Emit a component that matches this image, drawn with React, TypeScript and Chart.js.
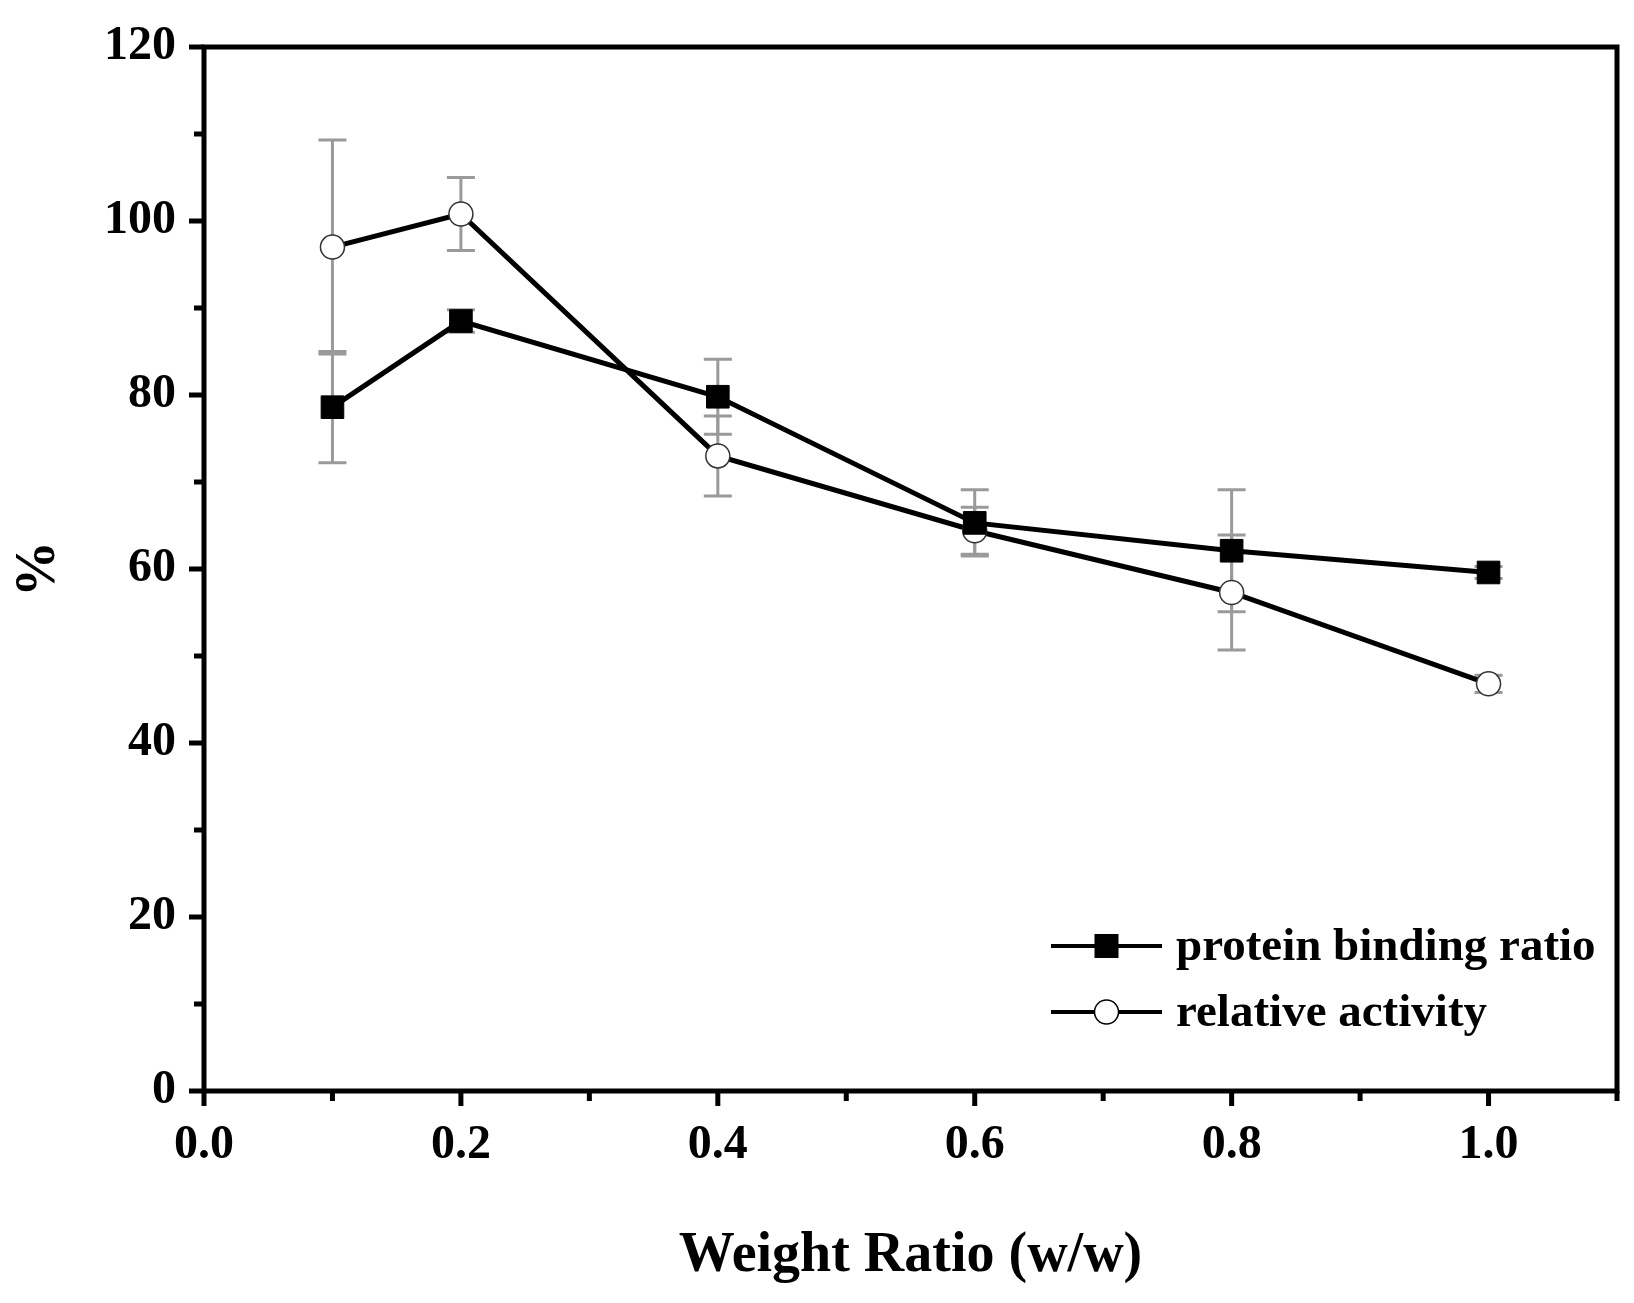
import { useEffect, useRef } from 'react';
import { Chart, registerables } from 'chart.js';
Chart.register(...registerables);

const ratios = [0.1, 0.2, 0.4, 0.6, 0.8, 1.0];
const bindingRatio = [78.6, 88.5, 79.8, 65.3, 62.1, 59.6];
const bindingErr = [6.4, 1.3, 4.3, 3.8, 7.0, 0.7];
const relativeActivity = [97.0, 100.8, 73.0, 64.4, 57.3, 46.8];
const activityErr = [12.3, 4.2, 4.6, 2.7, 6.6, 1.0];
const seriesNames = ['protein binding ratio', 'relative activity'];
const xMajorTicks = [0, 0.2, 0.4, 0.6, 0.8, 1.0];
const xMinorTicks = [0.1, 0.3, 0.5, 0.7, 0.9, 1.1];
const yMajorTicks = [0, 20, 40, 60, 80, 100, 120];
const yMinorTicks = [10, 30, 50, 70, 90, 110];

const FONT = "'Liberation Serif', 'Times New Roman', serif";

const decor = {
  id: 'decor',
  beforeDatasetsDraw(chart: any) {
    const { ctx, scales: { x, y } } = chart;
    ctx.save();
    ctx.strokeStyle = '#9a9a9a';
    ctx.lineWidth = 3;
    const sets = [[bindingRatio, bindingErr], [relativeActivity, activityErr]];
    sets.forEach(([vals, errs]) => {
      ratios.forEach((r, i) => {
        const px = x.getPixelForValue(r);
        const top = y.getPixelForValue(vals[i] + errs[i]);
        const bot = y.getPixelForValue(vals[i] - errs[i]);
        ctx.beginPath();
        ctx.moveTo(px, top); ctx.lineTo(px, bot);
        ctx.moveTo(px - 14, top); ctx.lineTo(px + 14, top);
        ctx.moveTo(px - 14, bot); ctx.lineTo(px + 14, bot);
        ctx.stroke();
      });
    });
    ctx.restore();
  },
  afterDraw(chart: any) {
    const { ctx, chartArea: a, scales: { x, y } } = chart;
    ctx.save();
    ctx.strokeStyle = '#000';
    ctx.lineWidth = 5;
    ctx.strokeRect(a.left, a.top, a.right - a.left, a.bottom - a.top);
    ctx.beginPath();
    xMajorTicks.forEach(v => { const p = x.getPixelForValue(v); ctx.moveTo(p, a.bottom); ctx.lineTo(p, a.bottom + 15); });
    xMinorTicks.forEach(v => { const p = x.getPixelForValue(v); ctx.moveTo(p, a.bottom); ctx.lineTo(p, a.bottom + 10); });
    yMajorTicks.forEach(v => { const p = y.getPixelForValue(v); ctx.moveTo(a.left, p); ctx.lineTo(a.left - 15, p); });
    yMinorTicks.forEach(v => { const p = y.getPixelForValue(v); ctx.moveTo(a.left, p); ctx.lineTo(a.left - 10, p); });
    ctx.stroke();

    // legend
    const rows = [a.bottom - 145, a.bottom - 79];
    const x0 = a.right - 566;
    const x1 = a.right - 455;
    const mx = (x0 + x1) / 2;
    ctx.font = `bold 47px ${FONT}`;
    ctx.textBaseline = 'middle';
    ctx.fillStyle = '#000';
    rows.forEach((ry, i) => {
      ctx.beginPath();
      ctx.lineWidth = 4;
      ctx.moveTo(x0, ry); ctx.lineTo(x1, ry);
      ctx.stroke();
      ctx.lineWidth = 1.5;
      if (i === 0) {
        ctx.fillRect(mx - 12, ry - 12, 24, 24);
      } else {
        ctx.beginPath();
        ctx.fillStyle = '#fff';
        ctx.arc(mx, ry, 12, 0, Math.PI * 2);
        ctx.fill();
        ctx.stroke();
        ctx.fillStyle = '#000';
      }
      ctx.fillText(seriesNames[i], a.right - 441, ry + 2);
    });
    ctx.restore();
  },
};

export default function App() {
  const canvasRef = useRef<HTMLCanvasElement>(null);

  useEffect(() => {
    const chart = new Chart(canvasRef.current!, {
      type: 'line',
      data: {
        datasets: [
          {
            label: seriesNames[0],
            data: ratios.map((r, i) => ({ x: r, y: bindingRatio[i] })),
            borderColor: '#000', borderWidth: 5,
            pointStyle: 'rect', pointRadius: 16,
            pointBackgroundColor: '#000', pointBorderColor: '#000', pointBorderWidth: 1,
          },
          {
            label: seriesNames[1],
            data: ratios.map((r, i) => ({ x: r, y: relativeActivity[i] })),
            borderColor: '#000', borderWidth: 5,
            pointStyle: 'circle', pointRadius: 12,
            pointBackgroundColor: '#fff', pointBorderColor: '#333', pointBorderWidth: 1.5,
          },
        ],
      },
      options: {
        animation: false,
        responsive: true, maintainAspectRatio: false,
        layout: { padding: { top: 47, right: 14, left: 0, bottom: 0 } },
        plugins: { legend: { display: false }, tooltip: { enabled: false } },
        scales: {
          x: {
            type: 'linear', min: 0, max: 1.1,
            afterBuildTicks: (s: any) => { s.ticks = xMajorTicks.map(v => ({ value: v })); },
            afterFit: (s: any) => { s.height = 212; },
            ticks: {
              color: '#000', padding: 26,
              font: { family: FONT, size: 48, weight: 'bold' },
              callback: (v: any) => Number(v).toFixed(1),
            },
            grid: { display: false, drawTicks: false },
            border: { display: false },
            title: {
              display: true, text: 'Weight Ratio (w/w)', color: '#000',
              font: { family: FONT, size: 56, weight: 'bold' },
              padding: { top: 0, bottom: 13 },
            },
          },
          y: {
            min: 0, max: 120,
            afterBuildTicks: (s: any) => { s.ticks = yMajorTicks.map(v => ({ value: v })); },
            afterFit: (s: any) => { s.width = 204; },
            ticks: {
              color: '#000', padding: 28,
              font: { family: FONT, size: 48, weight: 'bold', lineHeight: 0.7 },
            },
            grid: { display: false, drawTicks: false },
            border: { display: false },
            title: {
              display: true, text: '%', color: '#000',
              font: { family: FONT, size: 56, weight: 'bold' },
              padding: { top: 6, bottom: 0 },
            },
          },
        },
      },
      plugins: [decor],
    });
    return () => { chart.destroy(); };
  }, []);

  return (
    <div style={{ position: 'absolute', left: 0, top: 0, width: 1634, height: 1303, background: '#fff' }}>
      <canvas ref={canvasRef} />
    </div>
  );
}
